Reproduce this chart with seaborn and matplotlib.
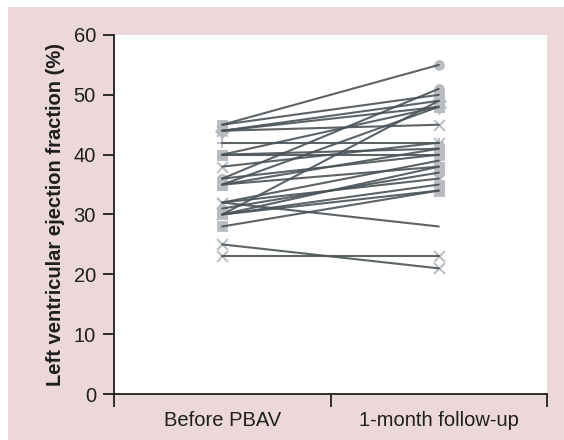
import numpy as np
import pandas as pd
import matplotlib.pyplot as plt
import seaborn as sns
from matplotlib.patches import Rectangle

# paired LVEF values, one entry per patient
categories = ["Before PBAV", "1-month follow-up"]
before = [45, 45, 44, 44, 44, 42, 40, 40, 40, 38, 36, 36, 35, 35, 35,
          32, 32, 32, 31, 30, 30, 30, 30, 28, 25, 23]
after = [55, 50, 49, 45, 48, 42, 40, 41, 48, 42, 51, 40, 48, 41, 38,
         28, 39, 36, 37, 49, 38, 35, 34, 34, 21, 23]
marks = ["o", "s", "D", "x", "D", "+", "s", "s", "s", "x", "o", "o", "s", "o", "s",
         "", "x", "x", "o", "s", "s", "s", "x", "s", "x", "x"]

rows = []
for i, (b, a, m) in enumerate(zip(before, after, marks)):
    rows.append({"patient": i, "time": categories[0], "lvef": b, "mark": m})
    rows.append({"patient": i, "time": categories[1], "lvef": a, "mark": m})
df = pd.DataFrame(rows)
df["pos"] = df["time"].map({c: k + 0.5 for k, c in enumerate(categories)})

sns.set_style("white")
plt.rcParams["font.family"] = ["Liberation Sans", "DejaVu Sans"]

fig = plt.figure(figsize=(5.64, 4.40), dpi=100, facecolor="white")
fig.patches.append(Rectangle((8 / 564, 0), 1, 433 / 440, transform=fig.transFigure,
                             facecolor="#ecd8d8", edgecolor="none", zorder=-1))
ax = fig.add_axes([114 / 564, 46 / 440, 433 / 564, 359 / 440])
ax.set_zorder(2)
ax.set_facecolor("white")

mcol = "#b8bcc0"
for m, sub in df[df["mark"] != ""].groupby("mark"):
    if m in ("x", "+"):
        sns.scatterplot(data=sub, x="pos", y="lvef", marker=m, color=mcol, s=60,
                        linewidth=1.4, legend=False, ax=ax, zorder=2)
    else:
        sns.scatterplot(data=sub, x="pos", y="lvef", marker=m, color=mcol, s=50,
                        edgecolor=mcol, legend=False, ax=ax, zorder=2)
sns.lineplot(data=df, x="pos", y="lvef", units="patient", estimator=None,
             color="#4a5358", lw=1.5, alpha=0.9, ax=ax, zorder=3)

ax.set_xlim(0, 2)
ax.set_ylim(0, 60)
ax.set_xticks([0, 1, 2])
ax.set_xticklabels([])
ax.set_xticks([0.5, 1.5], minor=True)
ax.set_xticklabels(categories, minor=True, fontsize=14.5, color="#1e1e1e")
ax.tick_params(axis="x", which="major", bottom=True, length=9, width=1.3,
               direction="out", color="#1e1e1e")
ax.tick_params(axis="x", which="minor", bottom=True, length=0, pad=12)
ax.set_yticks(range(0, 61, 10))
ax.tick_params(axis="y", left=True, length=8, width=1.3, direction="out", pad=5,
               labelsize=14.5, labelcolor="#1e1e1e", color="#1e1e1e")
ax.set_xlabel("")
ax.set_ylabel("Left ventricular ejection fraction (%)", fontsize=14.5,
              fontweight="bold", color="#1e1e1e", labelpad=6)

sns.despine(ax=ax)
for s in ["left", "bottom"]:
    ax.spines[s].set_color("#1e1e1e")
    ax.spines[s].set_linewidth(1.3)

fig.savefig("out.png", dpi=100, facecolor=fig.get_facecolor())
